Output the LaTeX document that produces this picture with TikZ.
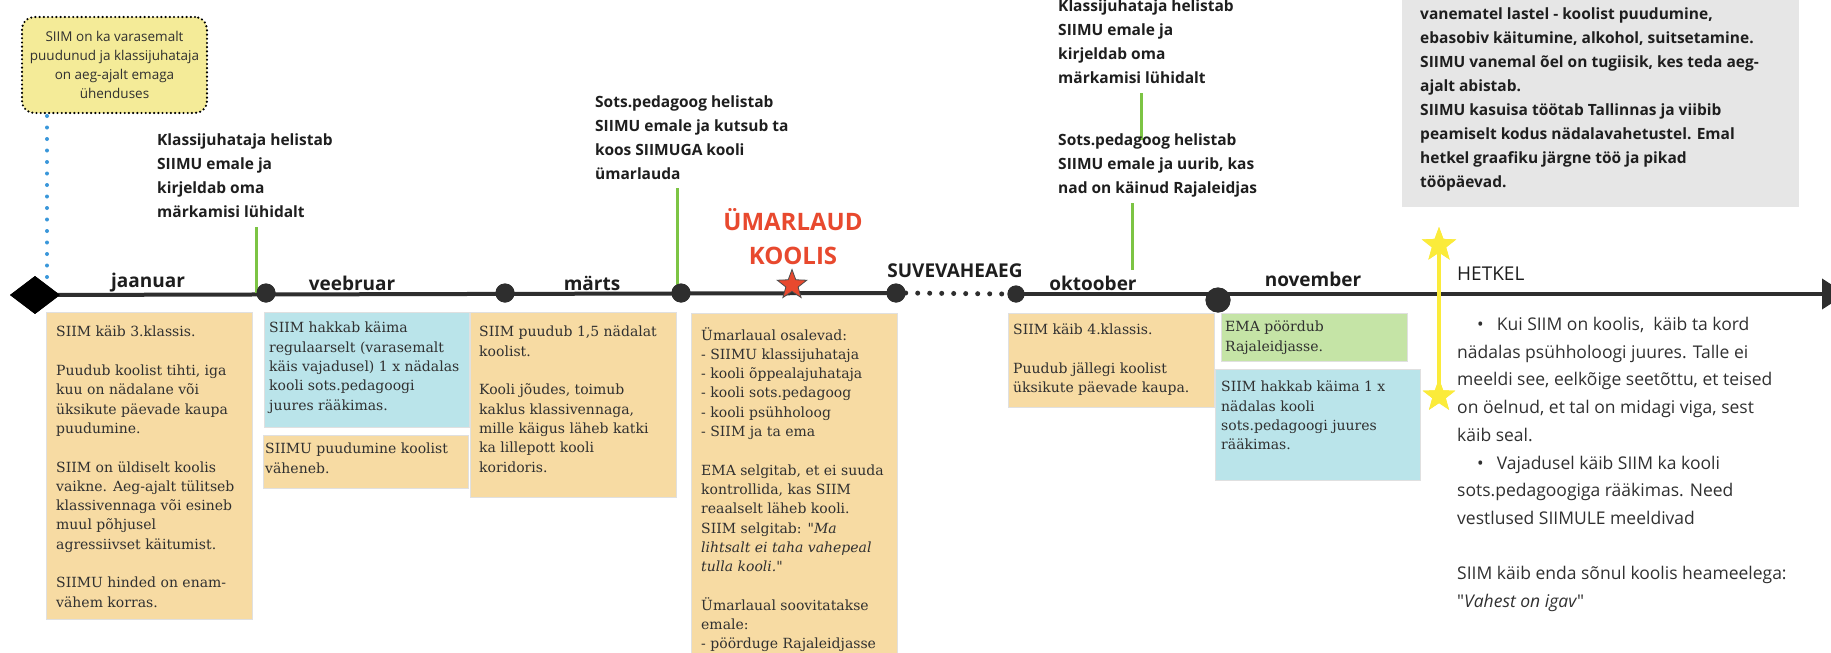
\documentclass[tikz,border=0pt]{standalone}
\usepackage{fontspec}
\setmainfont{DejaVu Serif}
\newfontfamily\osans{Open Sans}
\usetikzlibrary{shapes.geometric,arrows.meta}

\definecolor{boxorange}{HTML}{F7DBA3}
\definecolor{boxblue}{HTML}{BAE4EA}
\definecolor{boxgreen}{HTML}{C5E4A6}
\definecolor{boxgrey}{HTML}{E6E6E6}
\definecolor{noteyellow}{HTML}{F4EB98}
\definecolor{linegreen}{HTML}{7CC444}
\definecolor{dotblue}{HTML}{3A97DA}
\definecolor{staryellow}{HTML}{FBEB3A}
\definecolor{roundred}{HTML}{E8492E}
\definecolor{axis}{HTML}{2E2E2E}
\definecolor{ink}{HTML}{303030}
\definecolor{callink}{HTML}{1E1E1E}

\tikzset{
  evbox/.style={anchor=north west, inner sep=0, draw=black!12, line width=0.6},
  obox/.style={evbox, fill=boxorange},
  bbox/.style={evbox, fill=boxblue},
  gbox/.style={evbox, fill=boxgreen},
  evtext/.style={anchor=north west, inner sep=0, align=left, text=ink, font=\fontsize{14}{19.3}\selectfont},
  calltext/.style={anchor=north west, inner sep=0, align=left, text=callink, font=\osans\bfseries\fontsize{15.5}{24}\selectfont},
  month/.style={anchor=base, inner sep=0, text=callink, font=\osans\bfseries\fontsize{19}{23}\selectfont},
  monthdot/.style={circle, fill=axis, inner sep=0, minimum size=19},
  starmark/.style={star, star points=5, star point ratio=2.4, inner sep=0},
  gline/.style={linegreen, line width=3},
  axisline/.style={axis, line width=4},
}

\begin{document}
\begin{tikzpicture}[x=1pt, y=-1pt]
    \useasboundingbox (0,0) rectangle (1831,653);
    \clip (0,0) rectangle (1831,653);
    \fill[white] (0,0) rectangle (1831,653);

    \node[rounded corners=12, fill=noteyellow, draw=black, line width=2.4, dash pattern=on 0pt off 4.2pt, line cap=round, minimum width=185, minimum height=96, inner sep=0, align=center, text=ink, font=\osans\fontsize{13.5}{19}\selectfont] (note) at (114.5,65) {SIIM on ka varasemalt\\puudunud ja klassijuhataja\\on aeg-ajalt emaga\\ühenduses};

    \node[anchor=north west, fill=boxgrey, minimum width=397, minimum height=230, inner sep=0] (bgbox) at (1402,-23) {};
    \node[calltext] (bgtxt) at (1420,8) {vanematel lastel - koolist puudumine,\\ebasobiv käitumine, alkohol, suitsetamine.\\SIIMU vanemal õel on tugiisik, kes teda aeg-\\ajalt abistab.\\SIIMU kasuisa töötab Tallinnas ja viibib\\peamiselt kodus nädalavahetustel. Emal\\hetkel graafiku järgne töö ja pikad\\tööpäevad.};

    \coordinate (bd) at (47,116);
    \coordinate (g1) at (256,227);
    \coordinate (g2) at (677,188);
    \coordinate (g3a) at (1141,93);
    \coordinate (g3b) at (1141,140);
    \coordinate (g4a) at (1132,203);
    \coordinate (g4b) at (1132,270);
    \coordinate (tipend) at (1846,294);

    \node[diamond, fill=black, minimum width=50, minimum height=38, inner sep=0] (dstart) at (35,295) {};
    \node[monthdot] (d1) at (266,293) {};
    \node[monthdot] (d2) at (505,293) {};
    \node[monthdot] (d3) at (681,293) {};
    \node[monthdot] (dsum) at (896,293) {};
    \node[monthdot, minimum size=17] (doct) at (1016,294) {};
    \node[monthdot, minimum size=25] (dnov) at (1218,300) {};

    \draw[dotblue, line width=4, line cap=round, dash pattern=on 0pt off 11.5pt] (bd) -- (bd |- dstart);
    \draw[axisline] (dstart.center) -- (dsum.center);
    \draw[axis, line width=5, line cap=round, dash pattern=on 0pt off 12pt] (dsum.east) -- (doct.west);
    \draw[axisline, -{Triangle[length=24pt, width=30pt]}] (doct.center) -- (tipend);
    \draw[gline] (g1) -- (g1 |- d1);
    \draw[gline] (g2) -- (g2 |- d3);
    \draw[gline] (g3a) -- (g3b);
    \draw[gline] (g4a) -- (g4b);

    \node[diamond, fill=black, minimum width=50, minimum height=38, inner sep=0] at (dstart) {};
    \foreach \d in {d1,d2,d3,dsum}
        \node[monthdot] at (\d) {};
    \node[monthdot, minimum size=17] at (doct) {};
    \node[monthdot, minimum size=25] at (dnov) {};

    \node[starmark, fill=roundred, draw=black!70, line width=0.8, minimum size=31] (rstar) at (792,285) {};
    \node[starmark, fill=staryellow, minimum size=36] (ystar1) at (1439,245) {};
    \node[starmark, fill=staryellow, minimum size=34] (ystar2) at (1439,396) {};
    \draw[staryellow, line width=4] (ystar1.center) -- (ystar2.center);
    \node[starmark, fill=staryellow, minimum size=36] at (ystar1) {};
    \node[starmark, fill=staryellow, minimum size=34] at (ystar2) {};

    \node[month] (jan) at (148,287) {jaanuar};
    \node[month] (feb) at (352,290) {veebruar};
    \node[month] (mar) at (592,290) {märts};
    \node[month] (summer) at (955,277) {SUVEVAHEAEG};
    \node[month] (oct) at (1093,290) {oktoober};
    \node[month] (nov) at (1313,286) {november};
    \node[month, anchor=base west, font=\osans\fontsize{19}{23}\selectfont] (now) at (1457,280) {HETKEL};
    \node[anchor=south, inner sep=0, align=center, text=roundred, font=\osans\bfseries\fontsize{24}{34}\selectfont] (round) at (793,265) {ÜMARLAUD\\KOOLIS};

    \node[calltext] (jancall) at (157,134) {Klassijuhataja helistab\\SIIMU emale ja\\kirjeldab oma\\märkamisi lühidalt};
    \node[calltext] (marcall) at (595,96) {Sots.pedagoog helistab\\SIIMU emale ja kutsub ta\\koos SIIMUGA kooli\\ümarlauda};
    \node[calltext] (octcall) at (1058,0) {Klassijuhataja helistab\\SIIMU emale ja\\kirjeldab oma\\märkamisi lühidalt};
    \node[calltext] (novcall) at (1058,134) {Sots.pedagoog helistab\\SIIMU emale ja uurib, kas\\nad on käinud Rajaleidjas};

    \node[obox, minimum width=206, minimum height=307] (janbox) at (46,312) {};
    \node[bbox, minimum width=205, minimum height=115] (febbox) at (264,312) {};
    \node[obox, minimum width=205, minimum height=53] (febbox2) at (263,435) {};
    \node[obox, minimum width=206, minimum height=185] (marbox) at (470,312) {};
    \node[obox, minimum width=206, minimum height=360] (roundbox) at (691,313) {};
    \node[obox, minimum width=206, minimum height=94] (octbox) at (1008,313) {};
    \node[gbox, minimum width=186, minimum height=48] (novbox) at (1221,313) {};
    \node[bbox, minimum width=205, minimum height=111] (novbox2) at (1215,369) {};

    \node[evtext] (jantxt) at (56,326) {SIIM käib 3.klassis.\\[19.3pt]Puudub koolist tihti, iga\\kuu on nädalane või\\üksikute päevade kaupa\\puudumine.\\[19.3pt]SIIM on üldiselt koolis\\vaikne. Aeg-ajalt tülitseb\\klassivennaga või esineb\\muul põhjusel\\agressiivset käitumist.\\[19.3pt]SIIMU hinded on enam-\\vähem korras.};
    \node[evtext] (febtxt) at (269,322) {SIIM hakkab käima\\regulaarselt (varasemalt\\käis vajadusel) 1 x nädalas\\kooli sots.pedagoogi\\juures rääkimas.};
    \node[evtext] (febtxt2) at (265,443) {SIIMU puudumine koolist\\väheneb.};
    \node[evtext] (martxt) at (479,326) {SIIM puudub 1,5 nädalat\\koolist.\\[19.3pt]Kooli jõudes, toimub\\kaklus klassivennaga,\\mille käigus läheb katki\\ka lillepott kooli\\koridoris.};
    \node[evtext] (roundtxt) at (701,327) {Ümarlaual osalevad:\\- SIIMU klassijuhataja\\- kooli õppealajuhataja\\- kooli sots.pedagoog\\- kooli psühholoog\\- SIIM ja ta ema\\[19.3pt]EMA selgitab, et ei suuda\\kontrollida, kas SIIM\\reaalselt läheb kooli.\\SIIM selgitab: \textquotedbl\textit{Ma}\\\textit{lihtsalt ei taha vahepeal}\\\textit{tulla kooli.}\textquotedbl\\[19.3pt]Ümarlaual soovitatakse\\emale:\\- pöörduge Rajaleidjasse};
    \node[evtext] (octtxt) at (1013,324) {SIIM käib 4.klassis.\\[19.3pt]Puudub jällegi koolist\\üksikute päevade kaupa.};
    \node[evtext] (novtxt) at (1225,321) {EMA pöördub\\Rajaleidjasse.};
    \node[evtext] (novtxt2) at (1221,381) {SIIM hakkab käima 1 x\\nädalas kooli\\sots.pedagoogi juures\\rääkimas.};

    \node[anchor=north west, inner sep=0, align=left, text=ink, font=\osans\fontsize{17.5}{27.7}\selectfont] (nowtxt) at (1457,317) {\hspace*{20pt}\textbullet\hspace{13pt}Kui SIIM on koolis,\ \ käib ta kord\\nädalas psühholoogi juures. Talle ei\\meeldi see, eelkõige seetõttu, et teised\\on öelnud, et tal on midagi viga, sest\\käib seal.\\\hspace*{20pt}\textbullet\hspace{13pt}Vajadusel käib SIIM ka kooli\\sots.pedagoogiga rääkimas. Need\\vestlused SIIMULE meeldivad\\[27.7pt]SIIM käib enda sõnul koolis heameelega:\\\textquotedbl\textit{Vahest on igav}\textquotedbl};
\end{tikzpicture}
\end{document}
